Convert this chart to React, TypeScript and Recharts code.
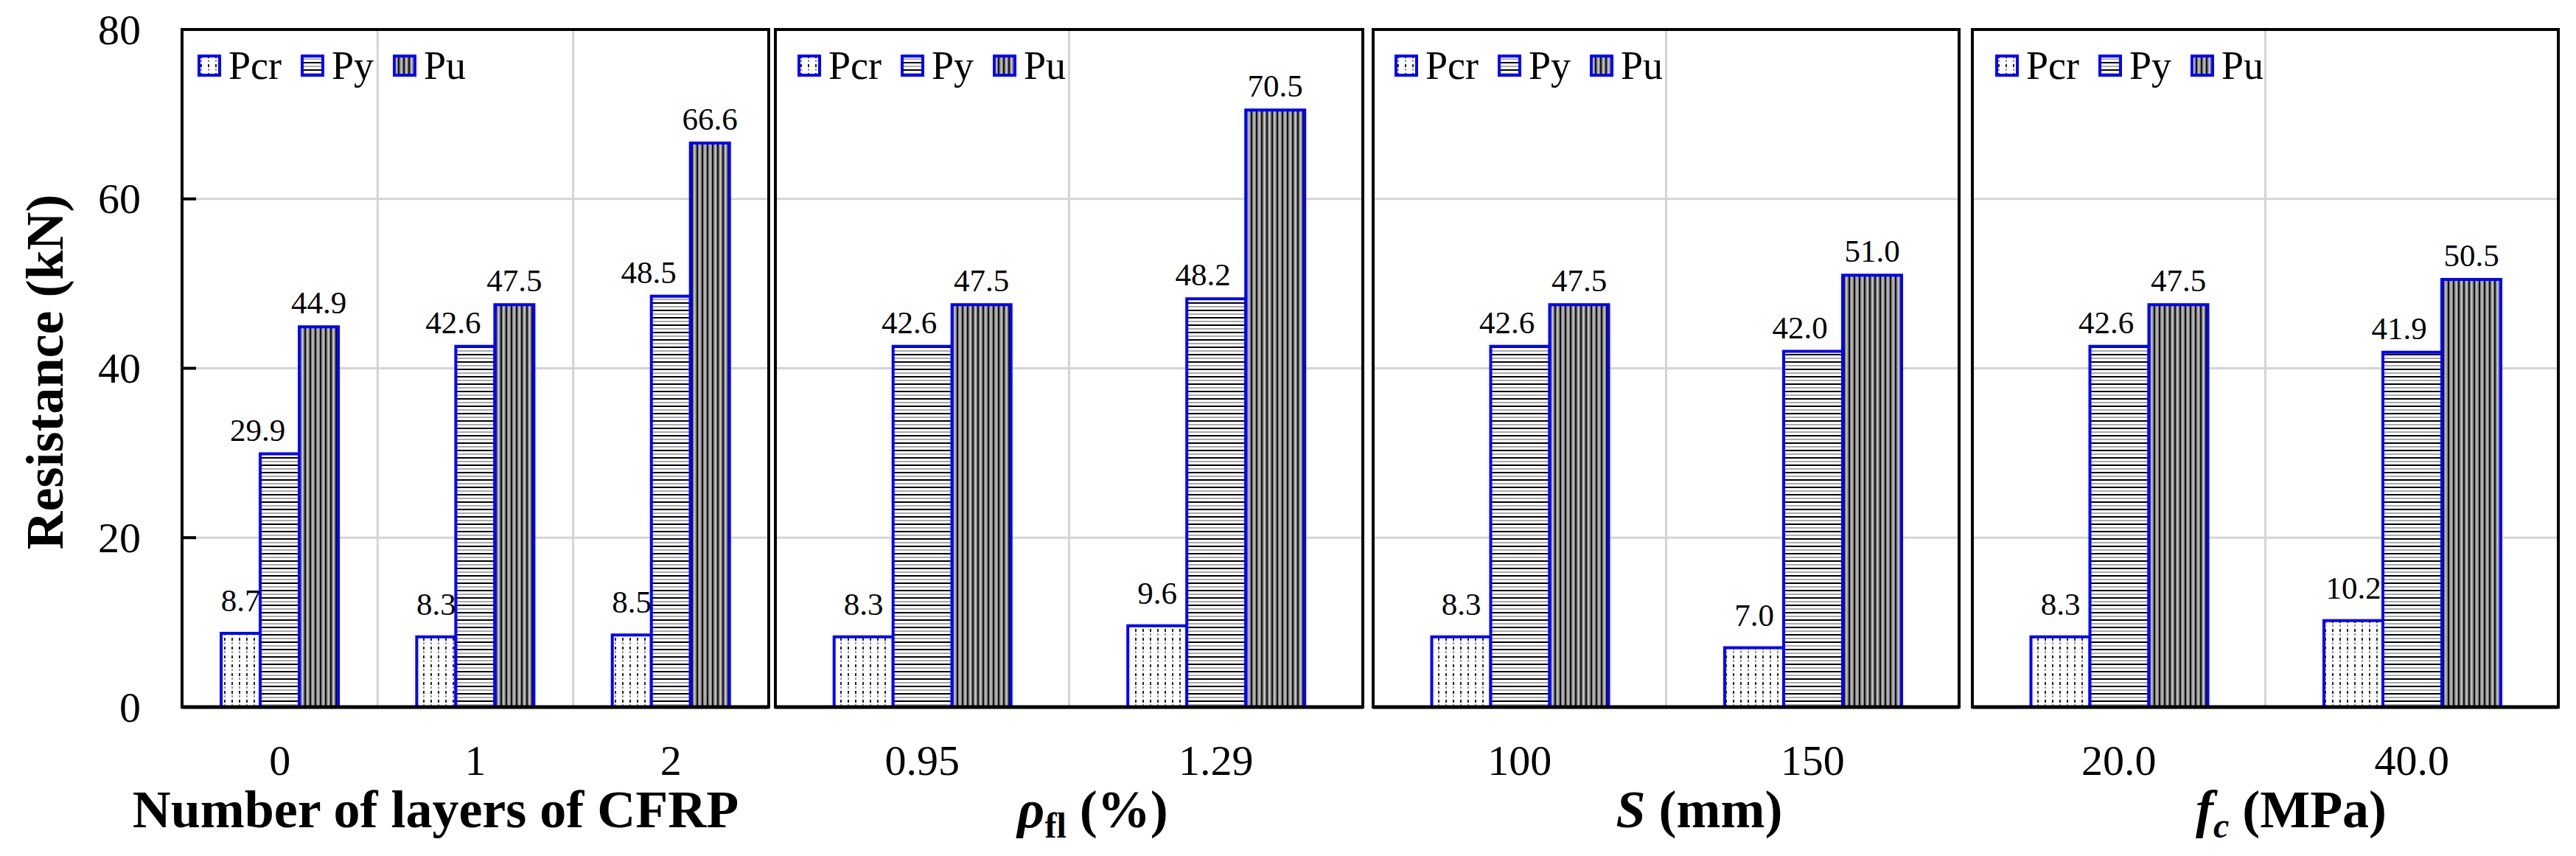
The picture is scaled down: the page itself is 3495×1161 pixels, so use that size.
import React from 'react';
import {
  BarChart,
  Bar,
  XAxis,
  YAxis,
  CartesianGrid,
  Legend,
  LabelList,
  ReferenceArea,
} from 'recharts';

// values (kN)
const layerCats = ['0', '1', '2'];
const layerPcr = [8.7, 8.3, 8.5];
const layerPy = [29.9, 42.6, 48.5];
const layerPu = [44.9, 47.5, 66.6];

const rhoCats = ['0.95', '1.29'];
const rhoPcr = [8.3, 9.6];
const rhoPy = [42.6, 48.2];
const rhoPu = [47.5, 70.5];

const spacingCats = ['100', '150'];
const spacingPcr = [8.3, 7.0];
const spacingPy = [42.6, 42.0];
const spacingPu = [47.5, 51.0];

const fcCats = ['20.0', '40.0'];
const fcPcr = [8.3, 10.2];
const fcPy = [42.6, 41.9];
const fcPu = [47.5, 50.5];

const yTicks = [0, 20, 40, 60, 80];
const seriesOrder = ['Pcr', 'Py', 'Pu'];

const FONT = "'Liberation Serif', 'Times New Roman', serif";
const BLUE = '#0000ff';
const Y_TICK_MARGIN = 56;

function rows(cats: string[], pcr: number[], py: number[], pu: number[]) {
  return cats.map((cat, i) => ({ cat, Pcr: pcr[i], Py: py[i], Pu: pu[i] }));
}

const makeYTick = (showLabel: boolean) => (props: any) => {
  const { x, y, payload } = props;
  const ax = x + Y_TICK_MARGIN;
  return (
    <g>
      <line x1={ax} x2={ax + 19} y1={y} y2={y} stroke="#000" strokeWidth={4} />
      {showLabel && (
        <text x={x} y={y} textAnchor="end" dominantBaseline="central" fontSize={58} fontFamily={FONT} fill="#000">
          {payload.value}
        </text>
      )}
    </g>
  );
};

const makeValueLabel = (dx: number, gap: number) => (props: any) => {
  const vb = props.viewBox || props;
  const x = (vb.x ?? props.x) + (vb.width ?? props.width) / 2 + dx;
  const y = (vb.y ?? props.y) - gap;
  return (
    <text x={x} y={y} textAnchor="middle" fontSize={43} fontFamily={FONT} fill="#000">
      {Number(props.value).toFixed(1)}
    </text>
  );
};

const LegendBoxes = (props: any) => {
  const payload = [...(props.payload || [])].sort(
    (a: any, b: any) => seriesOrder.indexOf(a.value) - seriesOrder.indexOf(b.value),
  );
  return (
    <div style={{ display: 'flex', alignItems: 'center', height: 40 }}>
      {payload.map((e: any) => (
        <div key={e.value} style={{ display: 'flex', alignItems: 'center', marginRight: 26 }}>
          <svg width={32} height={30}>
            <rect x={2} y={2} width={28} height={26} fill={`url(#pat${e.value})`} stroke={BLUE} strokeWidth={4} />
          </svg>
          <span style={{ marginLeft: 10, fontSize: 54, fontFamily: FONT, lineHeight: 1, color: '#000' }}>
            {e.value}
          </span>
        </div>
      ))}
    </div>
  );
};

function boundaries({ offset }: any, n: number) {
  const out: number[] = [];
  if (!offset) return out;
  for (let i = 1; i < n; i++) out.push(offset.left + (offset.width * i) / n);
  return out;
}

interface PanelProps {
  data: { cat: string; Pcr: number; Py: number; Pu: number }[];
  left: number;
  width: number;
  yAxisWidth: number;
  marginLeft: number;
  showYLabels: boolean;
  legendLeft: number;
  pyDx: number;
  title: React.ReactNode;
  titleDx: number;
}

function Panel(p: PanelProps) {
  const n = p.data.length;
  return (
    <div style={{ position: 'absolute', left: p.left, top: 0 }}>
      <BarChart
        width={p.width}
        height={1161}
        data={p.data}
        margin={{ top: 40, right: 6, bottom: 0, left: p.marginLeft }}
        barCategoryGap="20%"
        barGap={0}
      >
        <CartesianGrid
          stroke="#d4d4d4"
          strokeWidth={3}
          verticalCoordinatesGenerator={(args: any) => boundaries(args, n)}
        />
        <XAxis
          dataKey="cat"
          height={202}
          tickLine={false}
          tickSize={0}
          tickMargin={51}
          axisLine={{ stroke: '#000', strokeWidth: 5 }}
          tick={{ fill: '#000', fontSize: 58, fontFamily: FONT }}
          label={{
            content: (lp: any) => {
              const vb = lp.viewBox;
              return (
                <text
                  x={vb.x + vb.width / 2 + p.titleDx}
                  y={vb.y + 163}
                  textAnchor="middle"
                  fontSize={72}
                  fontWeight="bold"
                  fontFamily={FONT}
                  fill="#000"
                >
                  {p.title}
                </text>
              );
            },
          }}
        />
        <YAxis
          width={p.yAxisWidth}
          domain={[0, 80]}
          ticks={yTicks}
          tickLine={false}
          tickSize={0}
          tickMargin={Y_TICK_MARGIN}
          axisLine={{ stroke: '#000', strokeWidth: 4 }}
          tick={makeYTick(p.showYLabels)}
          label={
            p.showYLabels
              ? {
                  content: (lp: any) => {
                    const vb = lp.viewBox;
                    const cx = 85;
                    const cy = vb.y + vb.height / 2 + 5;
                    return (
                      <text
                        x={cx}
                        y={cy}
                        transform={`rotate(-90 ${cx} ${cy})`}
                        textAnchor="middle"
                        fontSize={72}
                        fontWeight="bold"
                        fontFamily={FONT}
                        fill="#000"
                      >
                        Resistance (kN)
                      </text>
                    );
                  },
                }
              : undefined
          }
        />
        <Legend
          verticalAlign="middle"
          layout="horizontal"
          content={LegendBoxes}
          wrapperStyle={{ top: 69, left: p.legendLeft, width: 'auto', height: 40 }}
        />
        <Bar dataKey="Pcr" name="Pcr" fill="url(#patPcr)" stroke={BLUE} strokeWidth={4} isAnimationActive={false}>
          <LabelList dataKey="Pcr" content={makeValueLabel(0, 30)} />
        </Bar>
        <Bar dataKey="Py" name="Py" fill="url(#patPy)" stroke={BLUE} strokeWidth={4} isAnimationActive={false}>
          <LabelList dataKey="Py" content={makeValueLabel(p.pyDx, 18)} />
        </Bar>
        <Bar dataKey="Pu" name="Pu" fill="url(#patPu)" stroke={BLUE} strokeWidth={4} isAnimationActive={false}>
          <LabelList dataKey="Pu" content={makeValueLabel(0, 18)} />
        </Bar>
        <ReferenceArea y1={0} y2={80} fill="none" stroke="#000" strokeWidth={4} ifOverflow="visible" />
      </BarChart>
    </div>
  );
}

export default function App() {
  return (
    <div style={{ position: 'absolute', left: 0, top: 0, width: 3495, height: 1161, background: '#fff' }}>
      <svg width={0} height={0} style={{ position: 'absolute' }}>
        <defs>
          <pattern id="patPcr" patternUnits="userSpaceOnUse" width={10} height={12}>
            <rect width={10} height={12} fill="#fff" />
            <rect x={4} y={1} width={2} height={4} fill="#222" />
            <rect x={4} y={7} width={2} height={3} fill="#999" />
          </pattern>
          <pattern id="patPy" patternUnits="userSpaceOnUse" width={10} height={10}>
            <rect width={10} height={10} fill="#fff" />
            <rect y={0} width={10} height={2} fill="#000" />
            <rect y={5} width={10} height={2} fill="#aaa" />
          </pattern>
          <pattern id="patPu" patternUnits="userSpaceOnUse" width={7} height={10}>
            <rect width={7} height={10} fill="#8c8c8c" />
            <rect x={0} width={2} height={10} fill="#111" />
            <rect x={4} width={1} height={10} fill="#dcdcdc" />
          </pattern>
        </defs>
      </svg>
      <Panel
        data={rows(layerCats, layerPcr, layerPy, layerPu)}
        left={0}
        width={1049}
        yAxisWidth={247}
        marginLeft={0}
        showYLabels
        legendLeft={268}
        pyDx={-30}
        title="Number of layers of CFRP"
        titleDx={-54}
      />
      <Panel
        data={rows(rhoCats, rhoPcr, rhoPy, rhoPu)}
        left={1046}
        width={809}
        yAxisWidth={0}
        marginLeft={6}
        showYLabels={false}
        legendLeft={36}
        pyDx={-18}
        title={
          <>
            <tspan fontStyle="italic">ρ</tspan>
            <tspan fontSize={48} dy={14}>fl</tspan>
            <tspan dy={-14}> (%)</tspan>
          </>
        }
        titleDx={32}
      />
      <Panel
        data={rows(spacingCats, spacingPcr, spacingPy, spacingPu)}
        left={1857}
        width={807}
        yAxisWidth={0}
        marginLeft={6}
        showYLabels={false}
        legendLeft={35}
        pyDx={-18}
        title={
          <>
            <tspan fontStyle="italic">S</tspan>
            <tspan> (mm)</tspan>
          </>
        }
        titleDx={45}
      />
      <Panel
        data={rows(fcCats, fcPcr, fcPy, fcPu)}
        left={2670}
        width={807}
        yAxisWidth={0}
        marginLeft={6}
        showYLabels={false}
        legendLeft={37}
        pyDx={-18}
        title={
          <>
            <tspan fontStyle="italic">f</tspan>
            <tspan fontStyle="italic" fontSize={48} dy={14}>c</tspan>
            <tspan dy={-14}> (MPa)</tspan>
          </>
        }
        titleDx={35}
      />
    </div>
  );
}
